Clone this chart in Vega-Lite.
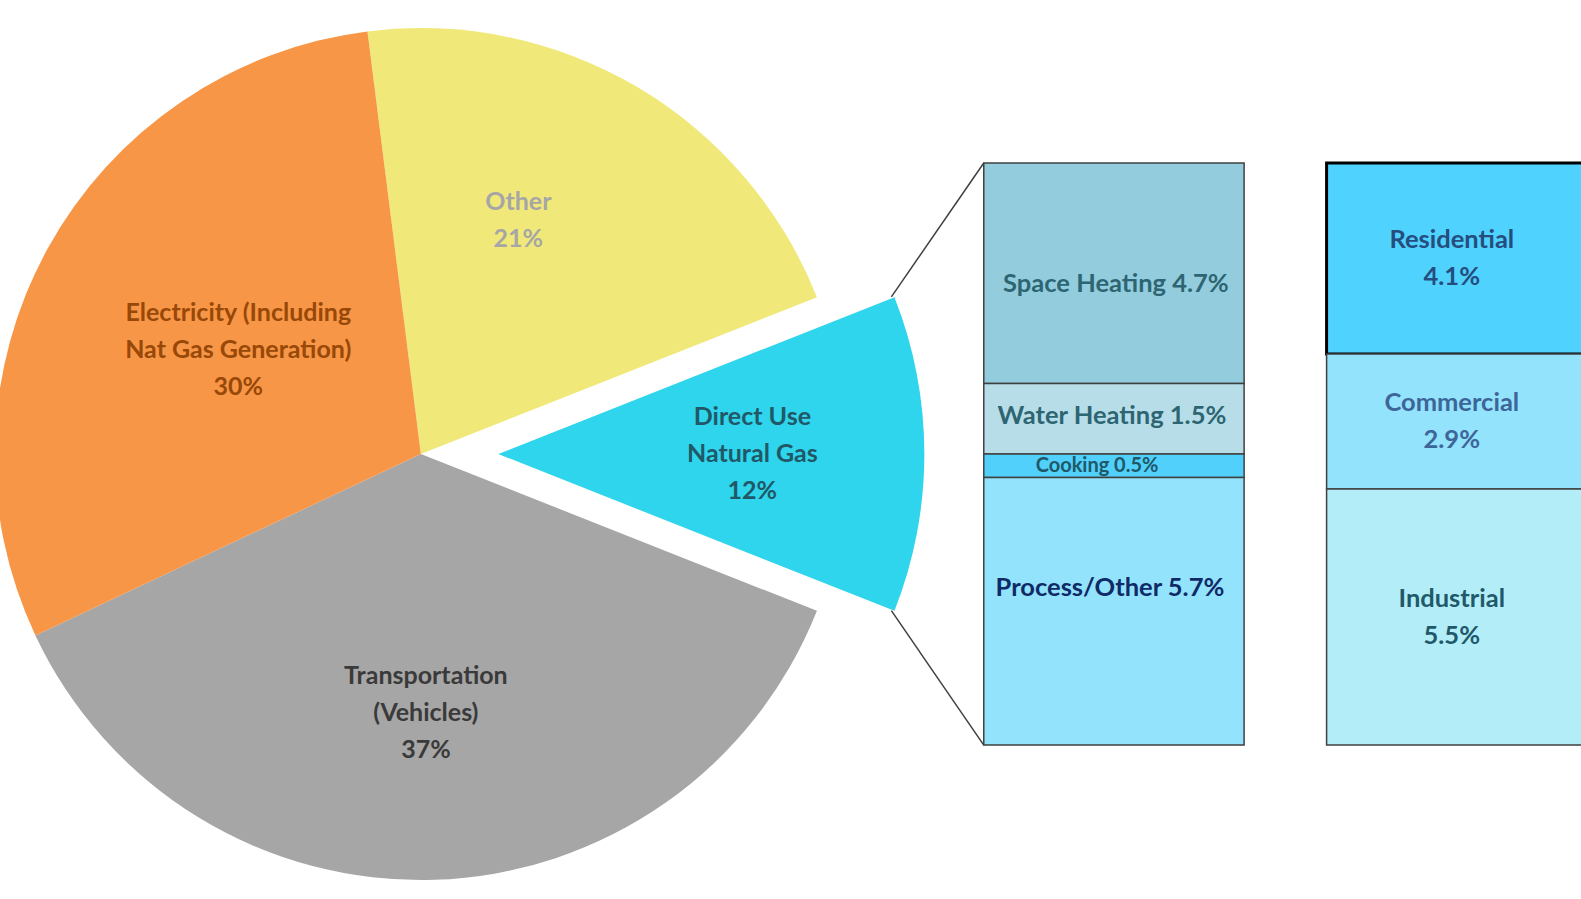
{
  "$schema": "https://vega.github.io/schema/vega-lite/v6.json",
  "width": 1581,
  "height": 899,
  "autosize": {"type": "none"},
  "padding": 0,
  "background": "white",
  "config": {"view": {"stroke": null}, "text": {"font": "Lato", "fontWeight": "bold"}},
  "datasets": {
    "pie": [
      {"category": "Other", "label": "Other\n21%", "share": 21, "rank": 1},
      {"category": "Direct Use Natural Gas", "label": "Direct Use\nNatural Gas\n12%", "share": 12, "rank": 2},
      {"category": "Transportation (Vehicles)", "label": "Transportation\n(Vehicles)\n37%", "share": 37, "rank": 3},
      {"category": "Electricity (Including Nat Gas Generation)", "label": "Electricity (Including\nNat Gas Generation)\n30%", "share": 30, "rank": 4}
    ],
    "enduse": [
      {"category": "Space Heating", "label": "Space Heating 4.7%", "share": 4.7, "rank": 4},
      {"category": "Water Heating", "label": "Water Heating 1.5%", "share": 1.5, "rank": 3},
      {"category": "Cooking", "label": "Cooking 0.5%", "share": 0.5, "rank": 2},
      {"category": "Process/Other", "label": "Process/Other 5.7%", "share": 5.7, "rank": 1}
    ],
    "sector": [
      {"category": "Residential", "label": "Residential\n4.1%", "share": 4.1, "rank": 3},
      {"category": "Commercial", "label": "Commercial\n2.9%", "share": 2.9, "rank": 2},
      {"category": "Industrial", "label": "Industrial\n5.5%", "share": 5.5, "rank": 1}
    ]
  },
  "layer": [
    {
      "data": {"name": "pie"},
      "mark": {"type": "arc", "radius": 426},
      "encoding": {
        "x": {"datum": 418.5, "type": "quantitative", "scale": {"domain": [0, 1581], "nice": false, "zero": false}, "axis": null},
        "y": {"datum": 0.5, "type": "quantitative", "scale": {"domain": [-0.2644, 1.28], "nice": false, "zero": false}, "axis": null},
        "theta": {"field": "share", "type": "quantitative", "stack": true, "scale": {"range": [-0.12566, 6.15752]}},
        "order": {"field": "rank", "type": "quantitative"},
        "color": {
          "field": "category", "type": "nominal", "legend": null,
          "scale": {
            "domain": ["Other", "Direct Use Natural Gas", "Transportation (Vehicles)", "Electricity (Including Nat Gas Generation)", "Space Heating", "Water Heating", "Cooking", "Process/Other", "Residential", "Commercial", "Industrial"],
            "range": ["#F0E97A", "#2ED5EC", "#A6A6A6", "#F79646", "#93CDDD", "#B7DEE8", "#50D0FA", "#93E3FD", "#50D2FE", "#93E3FD", "#B3EEF8"]
          }
        },
        "opacity": {"condition": {"test": "datum.category === 'Direct Use Natural Gas'", "value": 0}, "value": 1}
      }
    },
    {
      "data": {"name": "pie"},
      "mark": {"type": "arc", "radius": 426},
      "encoding": {
        "x": {"datum": 496.5, "type": "quantitative", "axis": null},
        "y": {"datum": 0.5, "type": "quantitative", "axis": null},
        "theta": {"field": "share", "type": "quantitative", "stack": true},
        "order": {"field": "rank", "type": "quantitative"},
        "color": {"field": "category", "type": "nominal", "legend": null},
        "opacity": {"condition": {"test": "datum.category === 'Direct Use Natural Gas'", "value": 1}, "value": 0}
      }
    },
    {
      "data": {"name": "pie"},
      "mark": {"type": "text", "radius": 253, "thetaOffset": -0.1384, "dy": -18.5, "lineBreak": "\n", "lineHeight": 37, "fontSize": 25, "align": "center", "baseline": "middle", "color": "#A6A6A6"},
      "encoding": {
        "x": {"datum": 418.5, "type": "quantitative", "axis": null},
        "y": {"datum": 0.5, "type": "quantitative", "axis": null},
        "theta": {"field": "share", "type": "quantitative", "stack": true},
        "order": {"field": "rank", "type": "quantitative"},
        "text": {"condition": {"test": "datum.category === 'Other'", "field": "label", "type": "nominal"}, "value": ""}
      }
    },
    {
      "data": {"name": "pie"},
      "mark": {"type": "text", "radius": 210, "thetaOffset": 0.014, "dy": -37, "lineBreak": "\n", "lineHeight": 37, "fontSize": 25, "align": "center", "baseline": "middle", "color": "#984807"},
      "encoding": {
        "x": {"datum": 418.5, "type": "quantitative", "axis": null},
        "y": {"datum": 0.5, "type": "quantitative", "axis": null},
        "theta": {"field": "share", "type": "quantitative", "stack": true},
        "order": {"field": "rank", "type": "quantitative"},
        "text": {"condition": {"test": "datum.category === 'Electricity (Including Nat Gas Generation)'", "field": "label", "type": "nominal"}, "value": ""}
      }
    },
    {
      "data": {"name": "pie"},
      "mark": {"type": "text", "radius": 259, "thetaOffset": 0.012, "dy": -37, "lineBreak": "\n", "lineHeight": 37, "fontSize": 25, "align": "center", "baseline": "middle", "color": "#3A3A3A"},
      "encoding": {
        "x": {"datum": 418.5, "type": "quantitative", "axis": null},
        "y": {"datum": 0.5, "type": "quantitative", "axis": null},
        "theta": {"field": "share", "type": "quantitative", "stack": true},
        "order": {"field": "rank", "type": "quantitative"},
        "text": {"condition": {"test": "datum.category === 'Transportation (Vehicles)'", "field": "label", "type": "nominal"}, "value": ""}
      }
    },
    {
      "data": {"name": "pie"},
      "mark": {"type": "text", "radius": 254, "dy": -37, "lineBreak": "\n", "lineHeight": 37, "fontSize": 25, "align": "center", "baseline": "middle", "color": "#215868"},
      "encoding": {
        "x": {"datum": 496.5, "type": "quantitative", "axis": null},
        "y": {"datum": 0.5, "type": "quantitative", "axis": null},
        "theta": {"field": "share", "type": "quantitative", "stack": true},
        "order": {"field": "rank", "type": "quantitative"},
        "text": {"condition": {"test": "datum.category === 'Direct Use Natural Gas'", "field": "label", "type": "nominal"}, "value": ""}
      }
    },
    {
      "data": {"values": [{}]},
      "mark": {"type": "rule", "color": "#404040", "strokeWidth": 1.5},
      "encoding": {
        "x": {"datum": 892, "type": "quantitative", "axis": null},
        "y": {"datum": 0.77, "type": "quantitative", "axis": null},
        "x2": {"datum": 985},
        "y2": {"datum": 1.0}
      }
    },
    {
      "data": {"values": [{}]},
      "mark": {"type": "rule", "color": "#404040", "strokeWidth": 1.5},
      "encoding": {
        "x": {"datum": 892, "type": "quantitative", "axis": null},
        "y": {"datum": 0.231, "type": "quantitative", "axis": null},
        "x2": {"datum": 985},
        "y2": {"datum": 0.0}
      }
    },
    {
      "data": {"name": "enduse"},
      "mark": {"type": "bar", "orient": "vertical", "stroke": "#404040", "strokeWidth": 1.5},
      "encoding": {
        "x": {"datum": 985, "type": "quantitative", "axis": null},
        "x2": {"datum": 1247},
        "y": {"field": "share", "type": "quantitative", "stack": "normalize", "axis": null},
        "order": {"field": "rank", "type": "quantitative"},
        "color": {"field": "category", "type": "nominal", "legend": null}
      }
    },
    {
      "data": {"name": "sector"},
      "mark": {"type": "bar", "orient": "vertical"},
      "encoding": {
        "x": {"datum": 1330, "type": "quantitative", "axis": null},
        "x2": {"datum": 1600},
        "y": {"field": "share", "type": "quantitative", "stack": "normalize", "axis": null},
        "order": {"field": "rank", "type": "quantitative"},
        "color": {"field": "category", "type": "nominal", "legend": null},
        "stroke": {"condition": {"test": "datum.category === 'Residential'", "value": "#000000"}, "value": "#404040"},
        "strokeWidth": {"condition": {"test": "datum.category === 'Residential'", "value": 3}, "value": 1.5}
      }
    },
    {
      "data": {"name": "enduse"},
      "mark": {"type": "text", "fontSize": 25.5, "align": "center", "baseline": "middle", "color": "#2D6573"},
      "encoding": {
        "x": {"datum": 1118, "type": "quantitative", "axis": null},
        "y": {"field": "share", "type": "quantitative", "stack": "normalize", "bandPosition": 0.45, "axis": null},
        "order": {"field": "rank", "type": "quantitative"},
        "detail": {"field": "category"},
        "text": {"condition": {"test": "datum.category === 'Space Heating'", "field": "label", "type": "nominal"}, "value": ""}
      }
    },
    {
      "data": {"name": "enduse"},
      "mark": {"type": "text", "fontSize": 25.5, "align": "center", "baseline": "middle", "color": "#2D6573"},
      "encoding": {
        "x": {"datum": 1114, "type": "quantitative", "axis": null},
        "y": {"field": "share", "type": "quantitative", "stack": "normalize", "bandPosition": 0.535, "axis": null},
        "order": {"field": "rank", "type": "quantitative"},
        "detail": {"field": "category"},
        "text": {"condition": {"test": "datum.category === 'Water Heating'", "field": "label", "type": "nominal"}, "value": ""}
      }
    },
    {
      "data": {"name": "enduse"},
      "mark": {"type": "text", "fontSize": 20, "align": "center", "baseline": "middle", "color": "#215868"},
      "encoding": {
        "x": {"datum": 1099, "type": "quantitative", "axis": null},
        "y": {"field": "share", "type": "quantitative", "stack": "normalize", "bandPosition": 0.5, "axis": null},
        "order": {"field": "rank", "type": "quantitative"},
        "detail": {"field": "category"},
        "text": {"condition": {"test": "datum.category === 'Cooking'", "field": "label", "type": "nominal"}, "value": ""}
      }
    },
    {
      "data": {"name": "enduse"},
      "mark": {"type": "text", "fontSize": 25.5, "align": "center", "baseline": "middle", "color": "#0F2A66"},
      "encoding": {
        "x": {"datum": 1112, "type": "quantitative", "axis": null},
        "y": {"field": "share", "type": "quantitative", "stack": "normalize", "bandPosition": 0.587, "axis": null},
        "order": {"field": "rank", "type": "quantitative"},
        "detail": {"field": "category"},
        "text": {"condition": {"test": "datum.category === 'Process/Other'", "field": "label", "type": "nominal"}, "value": ""}
      }
    },
    {
      "data": {"name": "sector"},
      "mark": {"type": "text", "fontSize": 25.5, "dy": -18.5, "lineBreak": "\n", "lineHeight": 37, "align": "center", "baseline": "middle"},
      "encoding": {
        "x": {"datum": 1456, "type": "quantitative", "axis": null},
        "y": {"field": "share", "type": "quantitative", "stack": "normalize", "bandPosition": 0.5, "axis": null},
        "order": {"field": "rank", "type": "quantitative"},
        "detail": {"field": "category"},
        "text": {"field": "label", "type": "nominal"},
        "fill": {
          "condition": [
            {"test": "datum.category === 'Residential'", "value": "#254D7E"},
            {"test": "datum.category === 'Commercial'", "value": "#3D6598"}
          ],
          "value": "#21596A"
        }
      }
    }
  ]
}
